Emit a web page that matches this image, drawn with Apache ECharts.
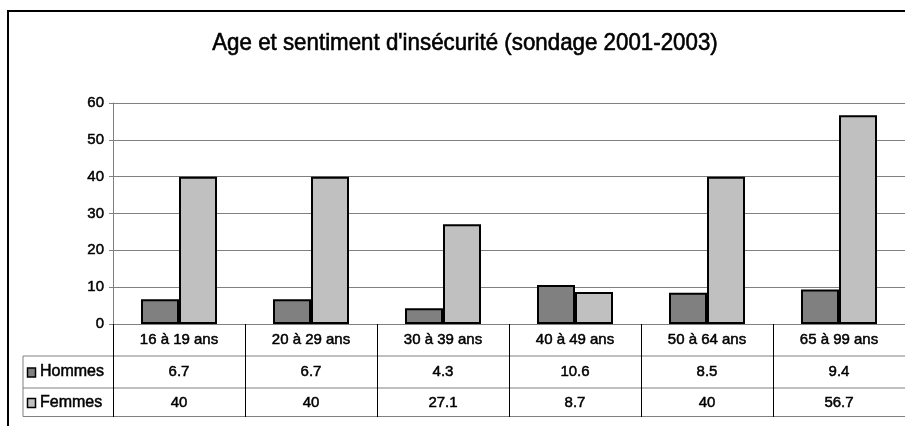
<!DOCTYPE html>
<html>
<head>
<meta charset="utf-8">
<script src="https://cdn.jsdelivr.net/npm/echarts@6/dist/echarts.min.js"></script>
<style>
  html, body { margin: 0; padding: 0; background: #fff; }
  #chart { width: 905px; height: 426px; }
</style>
</head>
<body>
<div id="chart"></div>
<script>
// data
const categories = ['16 à 19 ans', '20 à 29 ans', '30 à 39 ans', '40 à 49 ans', '50 à 64 ans', '65 à 99 ans']
const hommes = [6.7, 6.7, 4.3, 10.6, 8.5, 9.4]
const femmes = [40, 40, 27.1, 8.7, 40, 56.7]
const seriesNames = ['Hommes', 'Femmes']
const seriesColors = ['#808080', '#c0c0c0']
const yMin = 0
const yMax = 60
const yStep = 10
const titleText = "Age et sentiment d'insécurité (sondage 2001-2003)"

const font = "'Liberation Sans', Arial, sans-serif"
// the source text looks heavy, thicken it a little
const heavy = { textBorderColor: '#000', textBorderWidth: 0.5 }

const chart = echarts.init(document.getElementById('chart'))

const option = {
  animation: false,
  backgroundColor: '#fff',
  textStyle: { fontFamily: font },
  grid: { left: 113, right: -2, top: 103, bottom: 102, containLabel: false },
  xAxis: {
    type: 'category',
    data: categories,
    boundaryGap: true,
    axisLine: { lineStyle: { color: '#808080', width: 1 } },
    axisTick: { show: true, interval: 0, inside: false, length: 93, lineStyle: { color: '#000', width: 1 } },
    axisLabel: { interval: 0, margin: 8, fontSize: 15, color: '#000', fontFamily: font, ...heavy }
  },
  yAxis: {
    type: 'value',
    min: yMin,
    max: yMax,
    interval: yStep,
    axisLine: { show: true, lineStyle: { color: '#808080', width: 1 } },
    axisTick: { show: true, length: 4, lineStyle: { color: '#808080' } },
    axisLabel: { fontSize: 15, color: '#000', margin: 9, fontFamily: font, ...heavy },
    splitLine: { lineStyle: { color: '#808080', width: 1 } }
  },
  series: [
    {
      name: seriesNames[0],
      type: 'bar',
      data: hommes,
      barWidth: 38,
      barGap: '0%',
      itemStyle: { color: seriesColors[0], borderColor: '#000', borderWidth: 2 }
    },
    {
      name: seriesNames[1],
      type: 'bar',
      data: femmes,
      barWidth: 38,
      barGap: '0%',
      itemStyle: { color: seriesColors[1], borderColor: '#000', borderWidth: 2 }
    }
  ]
}

chart.setOption(option)

// data table under the axis, placed from the category axis
const buildTable = () => {
  const c0 = chart.convertToPixel({ xAxisIndex: 0 }, categories[0])
  const c1 = chart.convertToPixel({ xAxisIndex: 0 }, categories[1])
  const step = c1 - c0
  const rowTops = [356, 388]
  const tableBottom = 416.5
  const tableLeft = 23
  const rightEdge = c0 + step * (categories.length - 0.5)
  const rows = [hommes, femmes]
  const elements = []

  // outer frame
  elements.push({
    type: 'rect',
    shape: { x: 8, y: 11, width: 1000, height: 1000 },
    style: { fill: null, stroke: '#000', lineWidth: 2 },
    silent: true
  })

  // title, a bit condensed like the source
  elements.push({
    type: 'text',
    x: 465, y: 43,
    scaleX: 0.93, scaleY: 1,
    style: {
      text: titleText, x: 0, y: 0, align: 'center', verticalAlign: 'middle',
      font: '24px ' + font, fill: '#000', stroke: '#000', lineWidth: 0.6
    }
  })

  const hLines = [rowTops[0], rowTops[1], tableBottom]
  hLines.forEach(y => {
    elements.push({
      type: 'line',
      shape: { x1: tableLeft, y1: y, x2: rightEdge, y2: y },
      style: { stroke: '#808080', lineWidth: 1 }
    })
  })
  elements.push({
    type: 'line',
    shape: { x1: tableLeft, y1: rowTops[0], x2: tableLeft, y2: tableBottom },
    style: { stroke: '#808080', lineWidth: 1 }
  })

  const rowMids = [372, 402.5]
  rows.forEach((vals, r) => {
    // legend key
    elements.push({
      type: 'rect',
      shape: { x: 27.5, y: rowMids[r] - 4, width: 8, height: 9 },
      style: { fill: seriesColors[r], stroke: '#000', lineWidth: 1.5 }
    })
    elements.push({
      type: 'text',
      style: {
        text: seriesNames[r], x: 40, y: rowMids[r], align: 'left', verticalAlign: 'middle',
        font: '16px ' + font, fill: '#000', stroke: '#000', lineWidth: 0.5
      }
    })
    vals.forEach((v, i) => {
      elements.push({
        type: 'text',
        style: {
          text: String(v), x: c0 + step * i, y: rowMids[r], align: 'center', verticalAlign: 'middle',
          font: '15px ' + font, fill: '#000', stroke: '#000', lineWidth: 0.5
        }
      })
    })
  })

  chart.setOption({ graphic: { elements } })
}

buildTable()
</script>
</body>
</html>
